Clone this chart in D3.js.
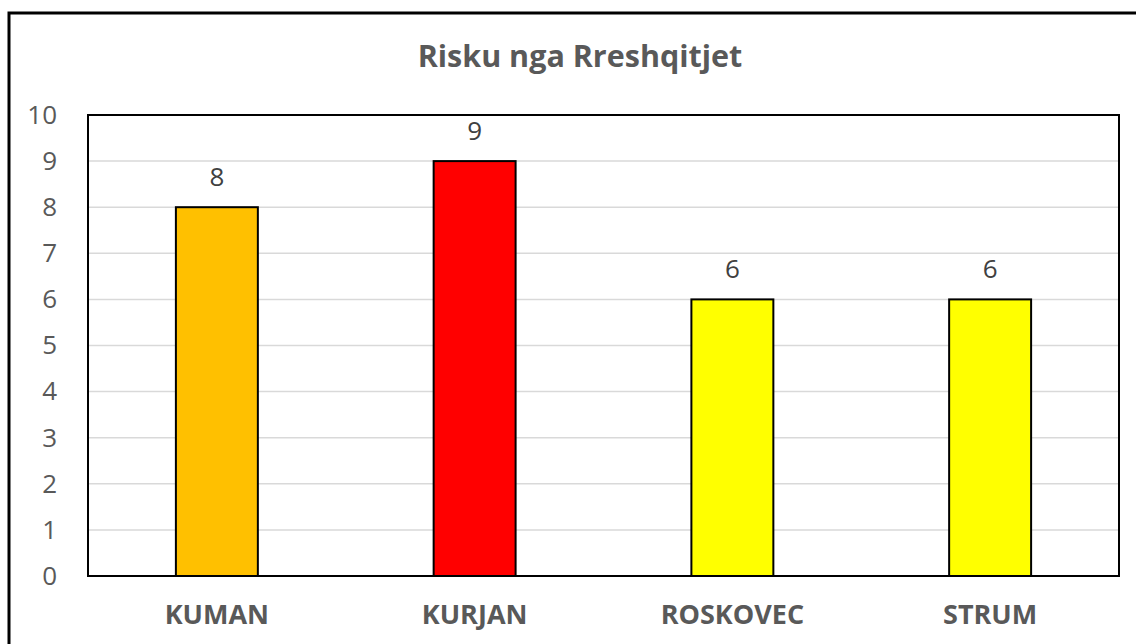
<!DOCTYPE html>
<html>
<head>
<meta charset="utf-8">
<script src="https://cdn.jsdelivr.net/npm/d3@7"></script>
<style>
  body { margin: 0; background: #fff; }
  svg { display: block; }
</style>
</head>
<body>
<div id="chart"></div>
<script>
// data
var categories = ["KUMAN", "KURJAN", "ROSKOVEC", "STRUM"];
var values = [8, 9, 6, 6];
var barColors = ["#FFC000", "#FF0000", "#FFFF00", "#FFFF00"];
var yTicks = [0, 1, 2, 3, 4, 5, 6, 7, 8, 9, 10];
var title = "Risku nga Rreshqitjet";

var width = 1136;
var height = 644;
var font = "'Open Sans', 'Noto Sans', sans-serif";

var plot = { left: 88, right: 1119, top: 115, bottom: 576 };

var svg = d3.select("#chart")
    .append("svg")
    .attr("width", width)
    .attr("height", height);

// outer frame (runs off the right and bottom edges)
svg.append("rect")
    .attr("x", 9)
    .attr("y", 13)
    .attr("width", width + 20)
    .attr("height", height + 20)
    .attr("fill", "#fff")
    .attr("stroke", "#000")
    .attr("stroke-width", 3);

// title
svg.append("text")
    .attr("x", 580)
    .attr("y", 67)
    .attr("text-anchor", "middle")
    .attr("font-family", font)
    .attr("font-weight", "bold")
    .attr("font-size", 30.5)
    .attr("fill", "#595959")
    .text(title);

var xScale = d3.scaleBand()
    .domain(categories)
    .range([plot.left, plot.right])
    .padding(0);

var yScale = d3.scaleLinear()
    .domain([0, 10])
    .range([plot.bottom, plot.top]);

var barWidth = xScale.bandwidth() * 0.318;

// gridlines
svg.append("g")
    .attr("class", "grid")
    .selectAll("line")
    .data(yTicks)
    .enter()
    .append("line")
    .attr("x1", plot.left)
    .attr("x2", plot.right)
    .attr("y1", function(d) { return yScale(d); })
    .attr("y2", function(d) { return yScale(d); })
    .attr("stroke", "#d9d9d9")
    .attr("stroke-width", 1.5);

// y axis labels
var yAxis = d3.axisLeft(yScale)
    .tickValues(yTicks)
    .tickSize(0)
    .tickPadding(31);

var yAxisG = svg.append("g")
    .attr("transform", "translate(" + plot.left + ",0)")
    .call(yAxis);
yAxisG.select(".domain").remove();
yAxisG.selectAll("text")
    .attr("font-family", font)
    .attr("font-size", 26)
    .attr("fill", "#595959");

// x axis labels
var xAxis = d3.axisBottom(xScale).tickSize(0).tickPadding(29);
var xAxisG = svg.append("g")
    .attr("transform", "translate(0," + plot.bottom + ")")
    .call(xAxis);
xAxisG.select(".domain").remove();
xAxisG.selectAll("text")
    .attr("font-family", font)
    .attr("font-weight", "bold")
    .attr("font-size", 27)
    .attr("fill", "#595959");

// plot border
svg.append("rect")
    .attr("x", plot.left)
    .attr("y", plot.top)
    .attr("width", plot.right - plot.left)
    .attr("height", plot.bottom - plot.top)
    .attr("fill", "none")
    .attr("stroke", "#000")
    .attr("stroke-width", 2);

// bars
svg.append("g")
    .selectAll("rect")
    .data(categories)
    .enter()
    .append("rect")
    .attr("x", function(d) { return xScale(d) + xScale.bandwidth() / 2 - barWidth / 2; })
    .attr("y", function(d, i) { return yScale(values[i]); })
    .attr("width", barWidth)
    .attr("height", function(d, i) { return plot.bottom - yScale(values[i]); })
    .attr("fill", function(d, i) { return barColors[i]; })
    .attr("stroke", "#000")
    .attr("stroke-width", 2);

// value labels
svg.append("g")
    .selectAll("text")
    .data(categories)
    .enter()
    .append("text")
    .attr("x", function(d) { return xScale(d) + xScale.bandwidth() / 2; })
    .attr("y", function(d, i) { return yScale(values[i]) - 21; })
    .attr("text-anchor", "middle")
    .attr("font-family", font)
    .attr("font-size", 26)
    .attr("fill", "#404040")
    .text(function(d, i) { return values[i]; });
</script>
</body>
</html>
